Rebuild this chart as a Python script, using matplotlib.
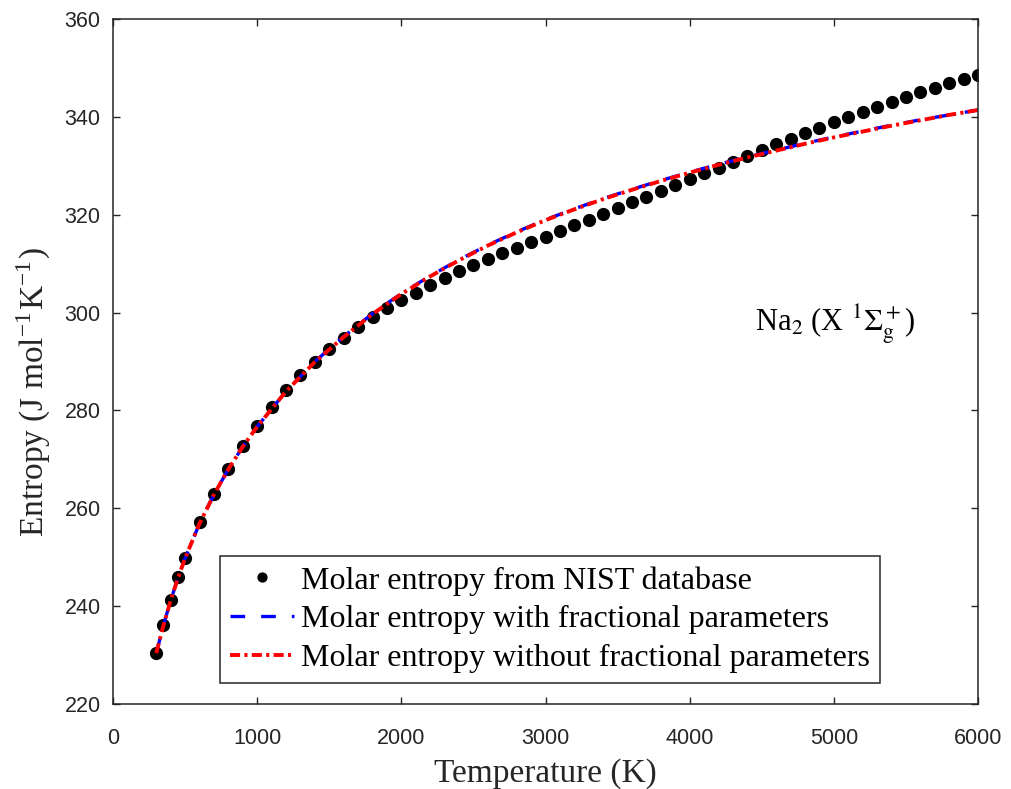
import numpy as np
import matplotlib.pyplot as plt

plt.rcParams['mathtext.fontset'] = 'stix'

# NIST molar entropy of Na2 (X 1Sigma_g+)
T_nist = [300, 350, 400, 450, 500, 600, 700, 800, 900, 1000,
          1100, 1200, 1300, 1400, 1500, 1600, 1700, 1800, 1900, 2000,
          2100, 2200, 2300, 2400, 2500, 2600, 2700, 2800, 2900, 3000,
          3100, 3200, 3300, 3400, 3500, 3600, 3700, 3800, 3900, 4000,
          4100, 4200, 4300, 4400, 4500, 4600, 4700, 4800, 4900, 5000,
          5100, 5200, 5300, 5400, 5500, 5600, 5700, 5800, 5900, 6000]
S_nist = [230.4, 236.2, 241.3, 245.9, 249.9, 257.1, 262.9, 268.1, 272.8, 276.8,
          280.7, 284.1, 287.2, 290.0, 292.6, 294.9, 297.0, 299.0, 301.0, 302.6,
          304.1, 305.6, 307.0, 308.4, 309.7, 311.0, 312.1, 313.3, 314.4, 315.5,
          316.7, 317.9, 319.0, 320.1, 321.3, 322.5, 323.7, 324.8, 326.1, 327.3,
          328.5, 329.6, 330.8, 332.0, 333.2, 334.4, 335.5, 336.7, 337.8, 338.9,
          340.0, 341.0, 342.1, 343.1, 344.1, 345.1, 346.0, 346.9, 347.8, 348.6]

# model curves
T_fit = [300, 350, 400, 450, 500, 600, 700, 800, 900, 1000,
         1200, 1400, 1600, 1800, 2000, 2200, 2400, 2600, 2800, 3000,
         3200, 3400, 3600, 3800, 4000, 4200, 4400, 4600, 4800, 5000,
         5200, 5400, 5600, 5800, 6000]
S_frac = [230.4, 236.1, 241.2, 245.7, 249.8, 256.9, 262.8, 268.0, 272.6, 276.7,
          283.9, 290.0, 295.1, 299.8, 303.9, 307.5, 310.8, 313.8, 316.5, 319.0,
          321.2, 323.3, 325.2, 327.0, 328.7, 330.3, 331.8, 333.2, 334.6, 335.9,
          337.1, 338.3, 339.4, 340.4, 341.4]
S_nofrac = [230.4, 236.1, 241.2, 245.7, 249.8, 256.9, 262.8, 268.0, 272.6, 276.7,
            283.9, 289.9, 295.0, 299.7, 303.8, 307.4, 310.7, 313.7, 316.4, 318.9,
            321.1, 323.2, 325.1, 326.9, 328.6, 330.2, 331.7, 333.1, 334.5, 335.8,
            337.0, 338.2, 339.3, 340.4, 341.4]

gray = '#262626'
fig = plt.figure(figsize=(10.12, 7.89), dpi=100)
ax = fig.add_axes([0.1117, 0.1077, 0.8547, 0.8682])

ax.plot(T_nist, S_nist, 'o', color='black', markersize=8.5,
        label='Molar entropy from NIST database')
ax.plot(T_fit, S_frac, color='blue', lw=2.4, ls=(0, (4.4, 4.8)),
        label='Molar entropy with fractional parameters')
ax.plot(T_fit, S_nofrac, color='red', lw=2.8, ls=(0, (2.6, 1.1, 0.8, 1.1)),
        label='Molar entropy without fractional parameters')

ax.set_xlim(0, 6000)
ax.set_ylim(220, 360)
ax.set_xticks(np.arange(0, 6001, 1000))
ax.set_yticks(np.arange(220, 361, 20))
ax.tick_params(direction='in', length=5, width=1, top=True, right=True,
               colors=gray, labelsize=15.5)
ax.tick_params(axis='x', pad=17)
ax.tick_params(axis='y', pad=9)
for lab in ax.get_xticklabels() + ax.get_yticklabels():
    lab.set_family('Liberation Sans')
for sp in ax.spines.values():
    sp.set_color(gray)
    sp.set_linewidth(1.1)

ax.set_xlabel('Temperature (K)', family='Liberation Serif', fontsize=24, color=gray, labelpad=7)
ax.set_ylabel(r'Entropy (J mol$^{\mathregular{-1}}$K$^{\mathregular{-1}}$)',
              family='Liberation Serif', fontsize=24, color=gray)
ax.yaxis.set_label_coords(-0.071, 0.455)

ax.text(4450, 296.4, r'Na$_2$ (X $^1\Sigma_\mathrm{g}^+$)', family='Liberation Serif',
        fontsize=22, ha='left', va='baseline')

leg = ax.legend(loc='lower left', bbox_to_anchor=(0.1237, 0.0307), borderaxespad=0,
                prop={'family': 'Liberation Serif', 'size': 23},
                fancybox=False, framealpha=1, edgecolor=gray,
                handlelength=2.0, handletextpad=0.25, labelspacing=0.3,
                borderpad=0.3, markerscale=0.75)
leg.get_frame().set_linewidth(1.1)

plt.savefig('out.png', dpi=100)
